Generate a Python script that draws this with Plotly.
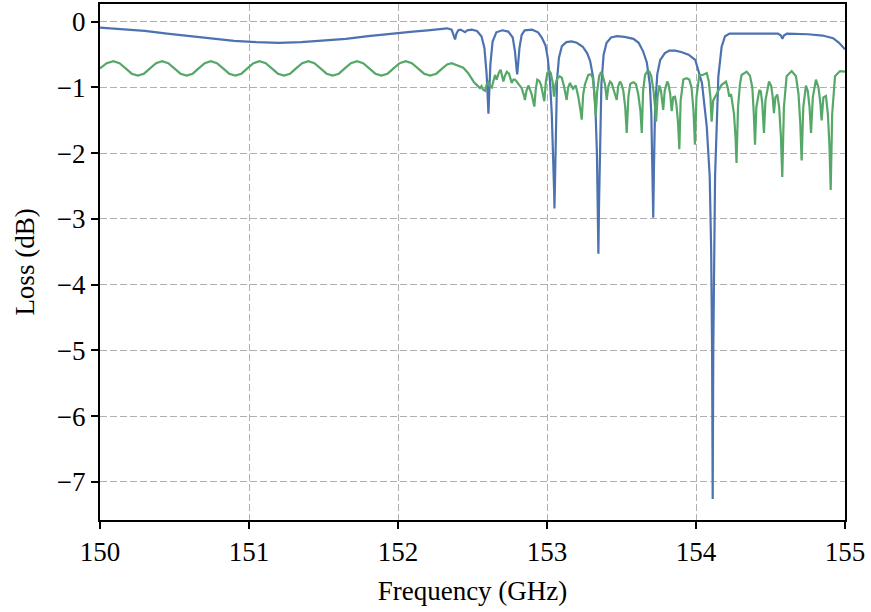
import plotly.graph_objects as go

# ---- data ----
blue_freq = [150.0, 150.15, 150.3, 150.45, 150.6, 150.75, 150.9, 151.05, 151.2, 151.35,
             151.5, 151.65, 151.8, 151.95, 152.1, 152.2, 152.28, 152.33,
             152.36, 152.375, 152.383, 152.392, 152.405, 152.42, 152.44, 152.45, 152.465, 152.495,
             152.53, 152.56, 152.58, 152.595, 152.603, 152.607, 152.612, 152.62, 152.635, 152.66,
             152.70, 152.74, 152.77, 152.785, 152.795, 152.80, 152.806, 152.815, 152.83, 152.85,
             152.90, 152.94, 152.965, 152.99, 153.005, 153.02, 153.032, 153.042, 153.048, 153.050,
             153.053, 153.058, 153.067, 153.08, 153.10, 153.13, 153.165, 153.20, 153.24, 153.27,
             153.29, 153.31, 153.325, 153.335, 153.341, 153.345, 153.349, 153.355, 153.365, 153.38,
             153.40, 153.43, 153.47, 153.52, 153.58, 153.615, 153.645, 153.67, 153.69, 153.70,
             153.708, 153.713, 153.718, 153.725, 153.74, 153.76, 153.79, 153.82, 153.86, 153.90,
             153.95, 153.995, 154.04, 154.072, 154.092, 154.102, 154.108, 154.112, 154.116, 154.121,
             154.128, 154.15, 154.172, 154.195, 154.225, 154.35, 154.55, 154.57, 154.58, 154.59,
             154.61, 154.75, 154.85, 154.92, 154.96, 155.0]
blue_loss = [-0.09, -0.11, -0.14, -0.18, -0.22, -0.26, -0.29, -0.31, -0.32, -0.31,
             -0.29, -0.26, -0.22, -0.18, -0.15, -0.13, -0.11, -0.10,
             -0.12, -0.20, -0.27, -0.18, -0.13, -0.12, -0.15, -0.16, -0.13, -0.12,
             -0.14, -0.22, -0.40, -0.80, -1.20, -1.40, -1.10, -0.65, -0.30, -0.16,
             -0.13, -0.15, -0.24, -0.45, -0.70, -0.80, -0.65, -0.40, -0.20, -0.13,
             -0.12, -0.16, -0.24, -0.36, -0.55, -0.90, -1.40, -2.00, -2.60, -2.84,
             -2.40, -1.60, -0.90, -0.55, -0.37, -0.31, -0.30, -0.32, -0.38, -0.48,
             -0.60, -0.85, -1.30, -2.00, -2.80, -3.53, -2.80, -1.80, -0.95, -0.50,
             -0.32, -0.24, -0.22, -0.23, -0.26, -0.32, -0.45, -0.62, -0.95, -1.40,
             -2.20, -2.98, -2.20, -1.35, -0.80, -0.58, -0.48, -0.44, -0.44, -0.46,
             -0.50, -0.58, -0.93, -1.59, -2.35, -3.50, -5.00, -7.26, -5.00, -3.50,
             -2.35, -0.83, -0.38, -0.22, -0.18, -0.18, -0.18, -0.21, -0.26, -0.21,
             -0.18, -0.19, -0.21, -0.25, -0.32, -0.42]

green_freq = [150.000, 150.045, 150.090, 150.131, 150.172, 150.213, 150.254, 150.295, 150.336, 150.376,
              150.417, 150.458, 150.499, 150.540, 150.581, 150.622, 150.662, 150.703, 150.744, 150.785,
              150.826, 150.867, 150.908, 150.949, 150.989, 151.030, 151.071, 151.112, 151.153, 151.194,
              151.235, 151.276, 151.316, 151.357, 151.398, 151.439, 151.480, 151.521, 151.562, 151.603,
              151.643, 151.684, 151.725, 151.766, 151.807, 151.848, 151.889, 151.930, 151.970, 152.011,
              152.052, 152.093, 152.134, 152.175, 152.216, 152.257, 152.298, 152.330, 152.360, 152.400,
              152.438, 152.470, 152.495, 152.510, 152.528, 152.540, 152.550, 152.560, 152.570, 152.584,
              152.596, 152.606, 152.618, 152.629, 152.641, 152.651, 152.662, 152.676, 152.689, 152.698,
              152.707, 152.718, 152.730, 152.745, 152.763, 152.775, 152.785, 152.800, 152.815, 152.830,
              152.845, 152.852, 152.862, 152.875, 152.887, 152.897, 152.908, 152.915, 152.925, 152.935,
              152.948, 152.960, 152.972, 152.982, 152.992, 153.002, 153.015, 153.025, 153.038, 153.047,
              153.057, 153.069, 153.085, 153.099, 153.114, 153.125, 153.132, 153.142, 153.154, 153.165,
              153.175, 153.193, 153.203, 153.210, 153.225, 153.233, 153.243, 153.255, 153.277, 153.295,
              153.307, 153.318, 153.327, 153.337, 153.350, 153.360, 153.372, 153.390, 153.401, 153.412,
              153.423, 153.435, 153.445, 153.460, 153.468, 153.478, 153.490, 153.500, 153.512, 153.525,
              153.535, 153.546, 153.558, 153.568, 153.580, 153.597, 153.612, 153.627, 153.636, 153.645,
              153.658, 153.672, 153.687, 153.700, 153.715, 153.725, 153.732, 153.742, 153.754, 153.765,
              153.773, 153.780, 153.790, 153.807, 153.815, 153.827, 153.837, 153.847, 153.859, 153.868,
              153.880, 153.888, 153.897, 153.915, 153.937, 153.955, 153.970, 153.983, 153.993, 154.003,
              154.022, 154.045, 154.072, 154.085, 154.097, 154.105, 154.115, 154.134, 154.150, 154.172,
              154.190, 154.201, 154.213, 154.223, 154.235, 154.255, 154.265, 154.272, 154.282, 154.295,
              154.306, 154.340, 154.362, 154.378, 154.388, 154.396, 154.405, 154.425, 154.435, 154.445,
              154.456, 154.466, 154.490, 154.505, 154.515, 154.523, 154.533, 154.546, 154.558, 154.570,
              154.579, 154.590, 154.608, 154.642, 154.671, 154.688, 154.700, 154.709, 154.720, 154.738,
              154.750, 154.762, 154.772, 154.784, 154.805, 154.822, 154.835, 154.843, 154.855, 154.872,
              154.885, 154.896, 154.904, 154.914, 154.933, 154.966, 155.000]
green_loss = [-0.71, -0.63, -0.60, -0.63, -0.71, -0.79, -0.82, -0.79, -0.71, -0.63,
              -0.60, -0.63, -0.71, -0.79, -0.82, -0.79, -0.71, -0.63, -0.60, -0.63,
              -0.71, -0.79, -0.82, -0.79, -0.71, -0.63, -0.60, -0.63, -0.71, -0.79,
              -0.82, -0.79, -0.71, -0.63, -0.60, -0.63, -0.71, -0.79, -0.82, -0.79,
              -0.71, -0.63, -0.60, -0.63, -0.71, -0.79, -0.82, -0.79, -0.71, -0.63,
              -0.60, -0.63, -0.71, -0.79, -0.82, -0.79, -0.71, -0.65, -0.63, -0.66,
              -0.70, -0.78, -0.88, -0.92, -0.96, -0.99, -1.01, -0.98, -1.03, -1.05,
              -0.95, -0.92, -0.98, -1.00, -0.88, -0.81, -0.88, -0.78, -0.73, -0.80,
              -0.91, -0.82, -0.76, -0.79, -0.93, -0.88, -0.88, -0.92, -0.96, -1.01,
              -1.12, -1.19, -1.05, -0.97, -1.04, -1.10, -1.22, -1.29, -1.02, -0.88,
              -0.90, -0.96, -1.10, -1.21, -0.92, -0.78, -0.75, -0.78, -0.92, -1.14,
              -0.95, -0.86, -0.83, -0.85, -0.98, -1.08, -1.19, -1.00, -0.93, -0.98,
              -1.02, -0.97, -1.05, -1.14, -1.35, -1.49, -1.10, -0.95, -0.81, -0.80,
              -0.85, -1.10, -1.44, -1.05, -0.83, -0.78, -0.80, -0.96, -1.19, -0.98,
              -0.91, -0.94, -1.02, -1.12, -1.19, -0.98, -0.91, -0.95, -1.05, -1.30,
              -1.69, -1.15, -0.95, -0.93, -0.92, -0.95, -1.10, -1.35, -1.69, -1.05,
              -0.81, -0.76, -0.76, -0.83, -1.05, -1.30, -1.52, -1.15, -0.97, -1.05,
              -1.20, -1.34, -1.05, -0.91, -0.95, -1.10, -1.36, -1.15, -1.14, -1.25,
              -1.55, -1.94, -1.20, -0.88, -0.86, -0.88, -1.00, -1.35, -1.87, -1.15,
              -0.81, -0.81, -0.78, -0.90, -1.15, -1.52, -1.20, -1.11, -1.05, -0.96,
              -0.92, -0.91, -1.00, -1.14, -1.10, -1.40, -1.75, -2.15, -1.30, -0.95,
              -0.81, -0.76, -0.82, -1.00, -1.40, -1.87, -1.30, -1.04, -1.06, -1.25,
              -1.69, -1.20, -0.91, -0.98, -1.15, -1.39, -1.15, -1.11, -1.30, -1.75,
              -2.36, -1.30, -0.83, -0.75, -0.83, -1.10, -1.55, -2.11, -1.30, -0.97,
              -1.05, -1.30, -1.69, -1.15, -0.88, -1.00, -1.25, -1.50, -1.15, -1.13,
              -1.40, -1.90, -2.56, -1.40, -0.83, -0.75, -0.76]

x_ticks = [150, 151, 152, 153, 154, 155]
y_ticks = [0, -1, -2, -3, -4, -5, -6, -7]

FONT = "Liberation Serif"

fig = go.Figure()
fig.add_trace(go.Scatter(x=blue_freq, y=blue_loss, mode="lines",
                         line=dict(color="#4C72B0", width=2.2), showlegend=False))
fig.add_trace(go.Scatter(x=green_freq, y=green_loss, mode="lines",
                         line=dict(color="#55A868", width=2.2), showlegend=False))

axis_common = dict(
    showline=True, linecolor="black", linewidth=2, mirror=True,
    ticks="outside", ticklen=7, tickwidth=1.5, tickcolor="black",
    showgrid=True, gridcolor="#b0b0b0", gridwidth=1, griddash="7px,3px",
    zeroline=False, automargin=False,
    tickfont=dict(family=FONT, size=27, color="black"),
)

fig.update_xaxes(range=[150, 155], tickvals=x_ticks,
                 ticktext=[str(v) for v in x_ticks],
                 title=dict(text="Frequency (GHz)", font=dict(family=FONT, size=27, color="black"),
                            standoff=15),
                 **axis_common)
fig.update_yaxes(range=[-7.58, 0.27], tickvals=y_ticks,
                 ticktext=[("\u2212" + str(-v)) if v < 0 else str(v) for v in y_ticks],
                 title=dict(text="Loss (dB)", font=dict(family=FONT, size=27, color="black"),
                            standoff=14),
                 **axis_common)

fig.update_layout(
    width=871, height=612,
    margin=dict(l=100, r=26, t=4, b=92),
    paper_bgcolor="white", plot_bgcolor="white",
    font=dict(family=FONT, color="black"),
)

fig.write_html("out.html", config={"displayModeBar": False},
               post_script="document.body.style.margin='0';document.body.style.overflow='hidden';")
